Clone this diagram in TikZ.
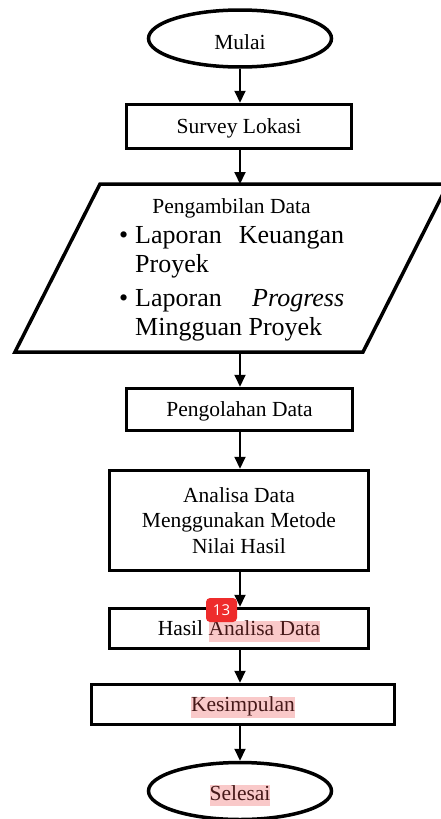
\documentclass[tikz,border=0pt]{standalone}
\usepackage{fontspec}
\setmainfont{Liberation Serif}
\newfontfamily\badgefont{Open Sans}
\usetikzlibrary{shapes.geometric,arrows.meta}
\definecolor{hlpink}{RGB}{249,201,201}
\definecolor{hltext}{RGB}{70,25,25}
\definecolor{badgered}{RGB}{238,44,44}
\newcommand{\hlt}[1]{{\setlength{\fboxsep}{0pt}\colorbox{hlpink}{\rule[-6pt]{0pt}{20pt}\color{hltext}#1}}}
\newcommand{\bulletitem}{\leavevmode\llap{\textbullet\hspace{7pt}}}
\begin{document}
\begin{tikzpicture}[x=1pt,y=-1pt,
  txt/.style={font=\fontsize{21.5}{25.5}\selectfont},
  box/.style={draw, rectangle, line width=3.5pt, inner sep=0pt, text depth=0pt, txt},
  term/.style={draw, ellipse, line width=3.5pt, inner sep=0pt, minimum width=183pt, minimum height=57pt, text depth=0pt, txt},
  conn/.style={line width=2pt, -{Triangle[length=12pt,width=11pt]}}]
\useasboundingbox (0,0) rectangle (441,819);
\clip (0,0) rectangle (441,819);

\node[term, text height=21pt] (mulai) at (240,38.5) {Mulai};
\node[box, minimum width=225pt, minimum height=44pt] (survey) at (239,126.5) {Survey Lokasi};

% data parallelogram
\draw[line width=3.5pt, line join=miter] (100,184) -- (448,184) -- (363,352) -- (15,352) -- cycle;
\coordinate (dtop) at (240,184);
\coordinate (dbot) at (240,352);
\node[txt, anchor=base, inner sep=0pt] (pjudul) at (231.5,213) {Pengambilan Data};
\node[anchor=north west, inner sep=0pt, text width=209pt, align=justify,
      font=\fontsize{26}{29}\selectfont] (plist) at (135,226.5)
  {\parindent=0pt\parskip=5pt\tolerance=10000\hyphenpenalty=10000
   \bulletitem Laporan Keuangan Proyek\par
   \bulletitem Laporan \textit{Progress} Mingguan Proyek\par};

\node[box, minimum width=226pt, minimum height=42pt] (olah) at (239.5,409.5) {Pengolahan Data};
\node[box, minimum width=259pt, minimum height=100pt, align=center] (analisa) at (239,520.5)
  {Analisa Data\\Menggunakan Metode\\Nilai Hasil};
\node[box, minimum width=259pt, minimum height=40pt] (hasil) at (239,628.5) {Hasil \hlt{Analisa Data}};
\node[box, minimum width=303pt, minimum height=40pt] (kesim) at (243,704.5) {\hlt{Kesimpulan}};
\node[term, text height=18pt] (selesai) at (240,791) {\hlt{Selesai}};

\draw[conn] (mulai.south -| dtop) -- (survey.north -| dtop);
\draw[conn] (survey.south -| dtop) -- (dtop);
\draw[conn] (dbot) -- (olah.north -| dtop);
\draw[conn] (olah.south -| dtop) -- (analisa.north -| dtop);
\draw[conn] (analisa.south -| dtop) -- (hasil.north -| dtop);
\draw[conn] (hasil.south -| dtop) -- (kesim.north -| dtop);
\draw[conn] (kesim.south -| dtop) -- (selesai.north -| dtop);

\node[fill=badgered, rounded corners=4pt, minimum width=31pt, minimum height=24pt, inner sep=0pt,
      text=white, font=\badgefont\fontsize{15}{15}\selectfont] (badge) at (221.5,610) {13};
\end{tikzpicture}
\end{document}
